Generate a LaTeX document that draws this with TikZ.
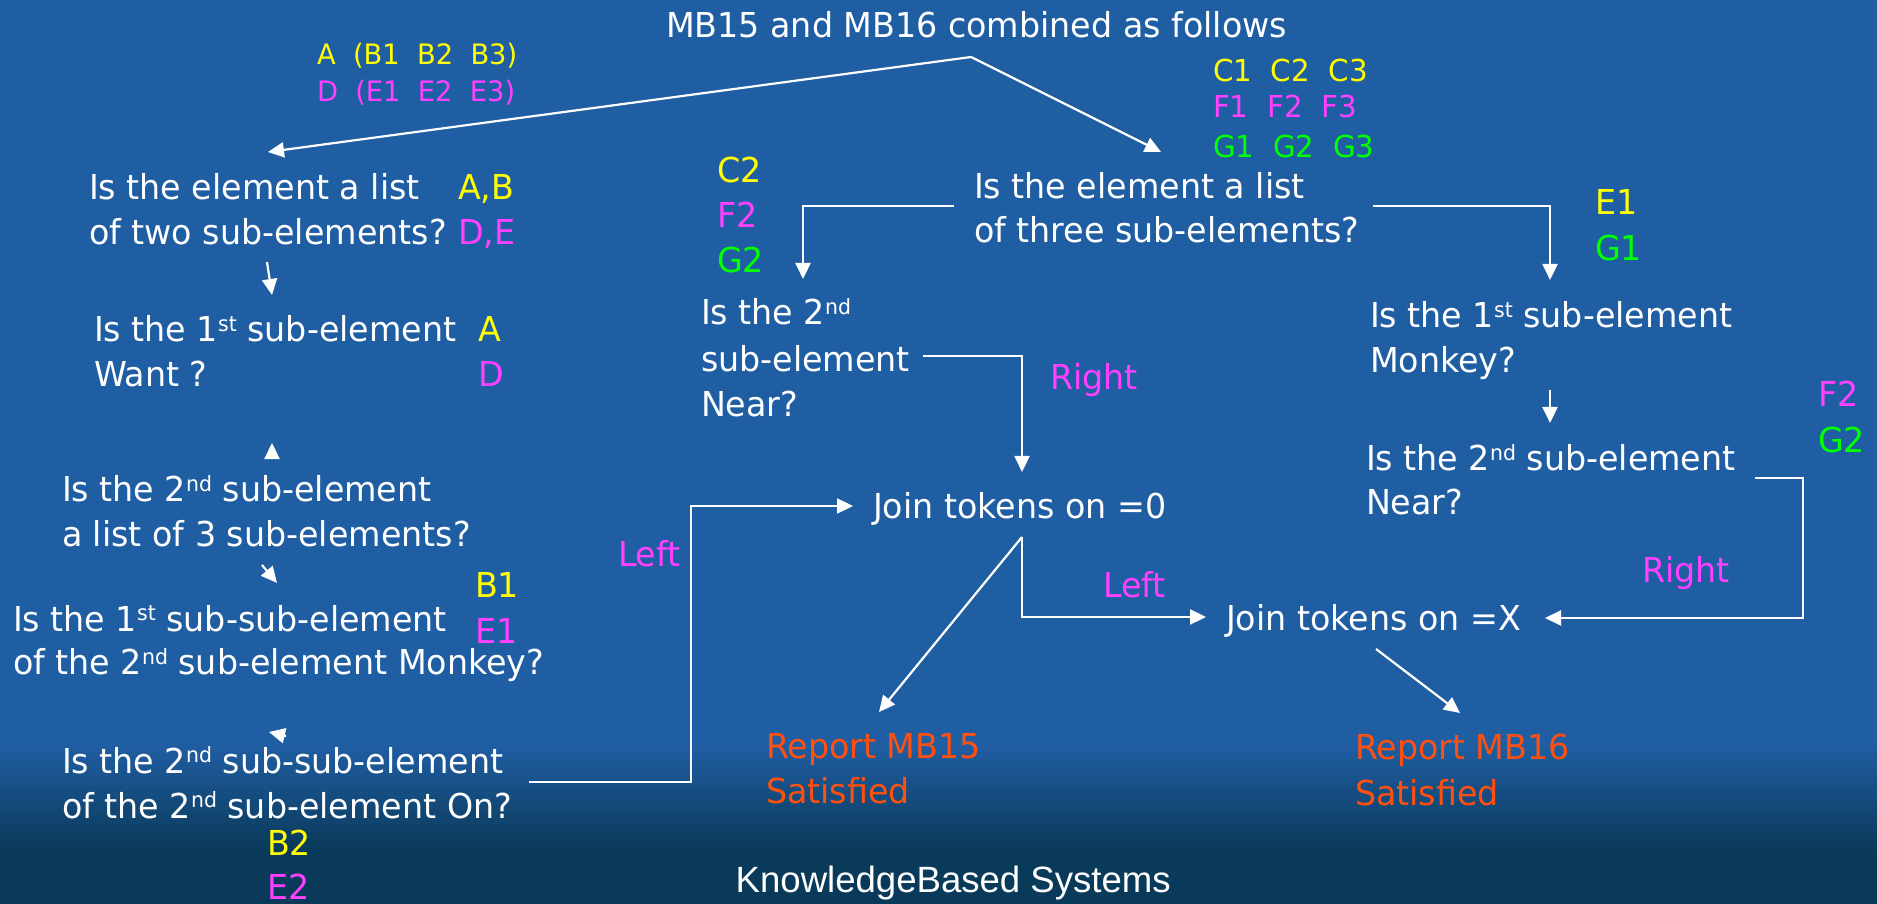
\documentclass[tikz,border=0pt]{standalone}
\usepackage{fontspec}
\setmainfont{DejaVu Sans}[FakeStretch=0.97]
\newfontfamily\footfont{Liberation Sans}
\usetikzlibrary{arrows.meta}
\definecolor{bgblue}{RGB}{32,94,163}
\definecolor{bgdark}{RGB}{10,58,90}
\definecolor{lblyellow}{RGB}{255,255,0}
\definecolor{lblmag}{RGB}{255,64,255}
\definecolor{lblgreen}{RGB}{0,255,0}
\definecolor{lblorange}{RGB}{255,80,16}
\newcommand{\msz}{\fontsize{9.76}{12}\selectfont}
\newcommand{\ssz}{\fontsize{8}{10}\selectfont}
\newcommand{\csz}{\fontsize{8.6}{10}\selectfont}
\newcommand{\sups}[1]{\raisebox{3pt}{\fontsize{6}{6}\selectfont #1}}
\begin{document}
\begin{tikzpicture}[x=0.01cm,y=-0.01cm,
  wt/.style={anchor=base west,inner sep=0pt,outer sep=0pt,text=white,font=\msz},
  yl/.style={wt,text=lblyellow},
  mg/.style={wt,text=lblmag},
  gn/.style={wt,text=lblgreen},
  rp/.style={wt,text=lblorange},
  conn/.style={draw=white,line width=0.022cm,-{Triangle[length=0.16cm,width=0.15cm]}}]
\useasboundingbox (0,0) rectangle (1877,904);
\fill[bgblue] (0,0) rectangle (1877,745);
\shade[top color=bgblue,bottom color=bgdark] (0,744) rectangle (1877,850);
\fill[bgdark] (0,849) rectangle (1877,904);

% header and legends
\node[wt] (hdr) at (666,38) {MB15 and MB16 combined as follows};
\node[yl,font=\ssz] (abl) at (317,65) {A\ \ (B1\ \ B2\ \ B3)};
\node[mg,font=\ssz] (del) at (317,102) {D\ \ (E1\ \ E2\ \ E3)};
\node[yl,font=\csz] (cl) at (1213,82) {C1\ \ C2\ \ C3};
\node[mg,font=\csz] (fl) at (1213,118) {F1\ \ F2\ \ F3};
\node[gn,font=\csz] (gl) at (1213,158) {G1\ \ G2\ \ G3};

% left column
\node[wt] (q1a) at (89,200) {Is the element a list};
\node[wt] (q1b) at (89,245) {of two sub-elements?};
\node[yl] (ab) at (458,200) {A,B};
\node[mg] (de) at (458,245) {D,E};
\node[wt] (q2a) at (94,342) {Is the 1\sups{st} sub-element};
\node[wt] (q2b) at (94,387) {Want ?};
\node[yl] (la) at (478,342) {A};
\node[mg] (ld) at (478,387) {D};
\node[wt] (q3a) at (62,502) {Is the 2\sups{nd} sub-element};
\node[wt] (q3b) at (62,547) {a list of 3 sub-elements?};
\node[wt] (q4a) at (13,631) {Is the 1\sups{st} sub-sub-element};
\node[wt] (q4b) at (13,675) {of the 2\sups{nd} sub-element Monkey?};
\node[yl] (b1) at (475,598) {B1};
\node[mg] (e1) at (475,643) {E1};
\node[wt] (q5a) at (62,773) {Is the 2\sups{nd} sub-sub-element};
\node[wt] (q5b) at (62,818) {of the 2\sups{nd} sub-element On?};
\node[yl] (b2) at (267,855) {B2};
\node[mg] (e2) at (267,899) {E2};
\node[mg] (lft1) at (618,567) {Left};

% middle
\node[wt] (r1a) at (974,199) {Is the element a list};
\node[wt] (r1b) at (974,243) {of three sub-elements?};
\node[yl] (c2) at (717,183) {C2};
\node[mg] (f2) at (717,228) {F2};
\node[gn] (g2) at (717,273) {G2};
\node[wt] (n1a) at (701,325) {Is the 2\sups{nd}};
\node[wt] (n1b) at (701,372) {sub-element};
\node[wt] (n1c) at (701,417) {Near?};
\node[mg] (rt1) at (1050,390) {Right};
\node[wt] (j0) at (873,519) {Join tokens on =0};
\node[mg] (lft2) at (1103,598) {Left};
\node[wt] (jx) at (1226,630) {Join tokens on =X};
\node[rp] (rep15a) at (766,758) {Report MB15};
\node[rp] (rep15b) at (766,803) {Satisfied};
\node[rp] (rep16a) at (1355,759) {Report MB16};
\node[rp] (rep16b) at (1355,805) {Satisfied};

% right
\node[yl] (re1) at (1595,215) {E1};
\node[gn] (rg1) at (1595,261) {G1};
\node[wt] (m1a) at (1370,328) {Is the 1\sups{st} sub-element};
\node[wt] (m1b) at (1370,373) {Monkey?};
\node[mg] (rf2) at (1818,407) {F2};
\node[gn] (rg2) at (1818,453) {G2};
\node[wt] (m2a) at (1366,471) {Is the 2\sups{nd} sub-element};
\node[wt] (m2b) at (1366,515) {Near?};
\node[mg] (rt2) at (1642,583) {Right};

% footer
\node[anchor=base west,inner sep=0pt,text=white,font=\footfont\fontsize{10.4}{12}\selectfont] (foot) at (735,892) {KnowledgeBased Systems};

% connector points
\coordinate (apex) at (971,57);
\coordinate (t1) at (268,152);
\coordinate (t2) at (1161,152);
\coordinate (s3) at (954,206);
\coordinate (t3) at (803,279);
\coordinate (s4) at (1373,206);
\coordinate (t4) at (1550,280);
\coordinate (s5) at (923,356);
\coordinate (t5) at (1022,472);
\coordinate (s6) at (1550,390);
\coordinate (t6) at (1550,423);
\coordinate (s7) at (1755,478);
\coordinate (k7) at (1803,618);
\coordinate (t7) at (1545,618);
\coordinate (s8) at (529,782);
\coordinate (k8) at (691,506);
\coordinate (t8) at (853,506);
\coordinate (s9) at (1022,537);
\coordinate (t9) at (1206,617);
\coordinate (t10) at (879,712);
\coordinate (s11) at (1376,649);
\coordinate (t11) at (1460,713);
\coordinate (s12) at (267,262);
\coordinate (t12) at (272,295);
\coordinate (s13) at (272,458);
\coordinate (t13) at (272,443);
\coordinate (s14) at (262,565);
\coordinate (t14) at (277,583);
\coordinate (s15) at (286,736);
\coordinate (t15) at (269,732);

\draw[conn] (apex) -- (t1);
\draw[conn] (apex) -- (t2);
\draw[conn] (s3) -| (t3);
\draw[conn] (s4) -| (t4);
\draw[conn] (s5) -| (t5);
\draw[conn] (s6) -- (t6);
\draw[conn] (s7) -| (k7) -- (t7);
\draw[conn] (s8) -| (k8) -- (t8);
\draw[conn] (s9) |- (t9);
\draw[conn] (s9) -- (t10);
\draw[conn] (s11) -- (t11);
\draw[conn] (s12) -- (t12);
\draw[conn] (s13) -- (t13);
\draw[conn] (s14) -- (t14);
\draw[conn] (s15) -- (t15);
\end{tikzpicture}
\end{document}
